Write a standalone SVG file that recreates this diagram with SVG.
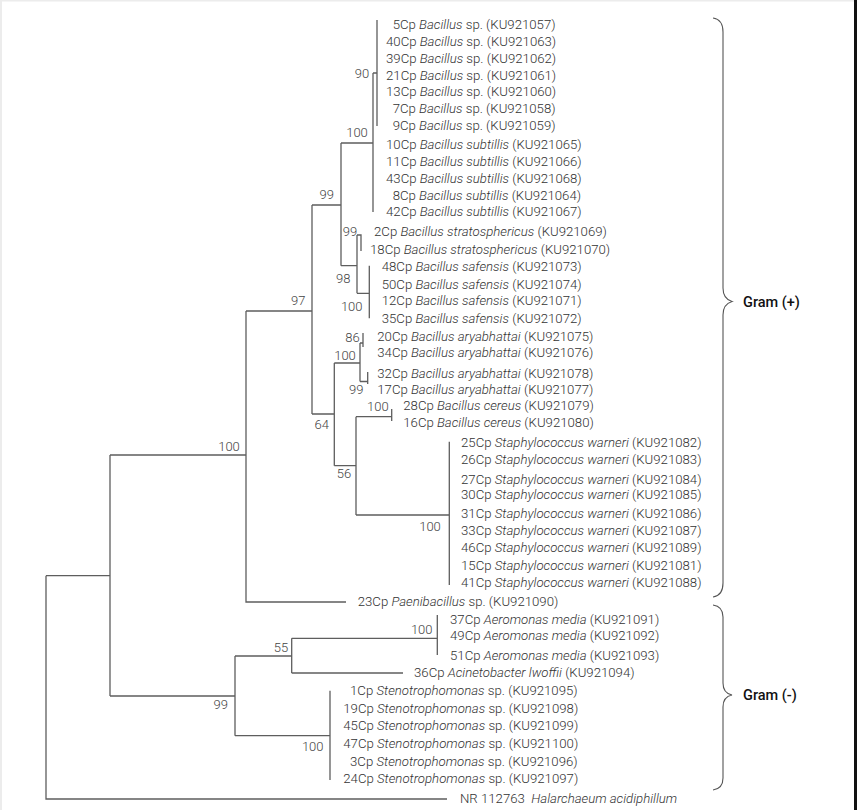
<svg xmlns="http://www.w3.org/2000/svg" width="857" height="810" viewBox="0 0 857 810">
<style>
.t{font-family:Roboto,"Liberation Sans",sans-serif;font-size:13.2px;font-weight:300;fill:#333}
.i{font-style:italic}
.bs{font-family:Roboto,"Liberation Sans",sans-serif;font-size:13px;font-weight:300;fill:#444;text-anchor:middle}
.br{stroke:#5e5e5e;stroke-width:1.3;fill:none}
.bc{stroke:#555;stroke-width:1.1;fill:none}
.g{font-family:Roboto,"Liberation Sans",sans-serif;font-size:14.5px;font-weight:500;fill:#111}
</style>
<rect width="857" height="810" fill="#fff"/>
<rect x="0" y="0" width="857" height="1.5" fill="#ececec"/>
<rect x="0" y="0" width="2" height="810" fill="#ececec"/>
<rect x="854" y="0" width="3" height="810" fill="#111"/>
<g id="connectors" class="br">
<path d="M46,575.7V799H447"/>
<path d="M46,575.7H110M110,455V696"/>
<path d="M110,455H246M246,311V602H346"/>
<path d="M246,311H312M312,205V414"/>
<path d="M312,205H341M341,143V265.7"/>
<path d="M341,143H373M373,73V212M373,73H377M377,20V126"/>
<path d="M341,265.7H357M357,235V293.3M357,235H361V251"/>
<path d="M357,293.3H369.3M369.3,265.7V318.3"/>
<path d="M312,414H334.3M334.3,363V465.7"/>
<path d="M334.3,363H360M360,343V381.5M360,343H363M363,333V347M360,381.5H367.7M367.7,372V384"/>
<path d="M334.3,465.7H356M356,416.7V515"/>
<path d="M356,416.7H391.7M391.7,409V421"/>
<path d="M356,515H449.3M449.3,441.7V585"/>
<path d="M110,696H235M235,656V735.7"/>
<path d="M235,656H291.7M291.7,638.3V673"/>
<path d="M291.7,638.3H437.3M437.3,615V655"/>
<path d="M291.7,673H403"/>
<path d="M235,735.7H330M330,690.7V780"/>
</g>
<g id="bootstrap">
<text class="bs" x="362" y="77.5">90</text>
<text class="bs" x="357" y="136.5">100</text>
<text class="bs" x="326.7" y="199">99</text>
<text class="bs" x="350" y="236">99</text>
<text class="bs" x="343.3" y="283">98</text>
<text class="bs" x="351.7" y="311">100</text>
<text class="bs" x="298.3" y="304.5">97</text>
<text class="bs" x="352.5" y="342">86</text>
<text class="bs" x="345" y="359.5">100</text>
<text class="bs" x="356.3" y="393.5">99</text>
<text class="bs" x="377.8" y="411">100</text>
<text class="bs" x="321.7" y="428.5">64</text>
<text class="bs" x="344" y="478">56</text>
<text class="bs" x="430" y="531">100</text>
<text class="bs" x="229" y="450.5">100</text>
<text class="bs" x="281" y="652">55</text>
<text class="bs" x="421.7" y="634">100</text>
<text class="bs" x="220.7" y="708.5">99</text>
<text class="bs" x="312.7" y="751">100</text>
</g>
<g id="leaf-5Cp"><text class="t" x="392.7" y="28.5">5Cp <tspan class="i">Bacillus</tspan> sp. (KU921057)</text></g>
<g id="leaf-40Cp"><text class="t" x="386" y="45.5">40Cp <tspan class="i">Bacillus</tspan> sp. (KU921063)</text></g>
<g id="leaf-39Cp"><text class="t" x="386" y="62.5">39Cp <tspan class="i">Bacillus</tspan> sp. (KU921062)</text></g>
<g id="leaf-21Cp"><text class="t" x="386" y="79.5">21Cp <tspan class="i">Bacillus</tspan> sp. (KU921061)</text></g>
<g id="leaf-13Cp"><text class="t" x="386" y="95.5">13Cp <tspan class="i">Bacillus</tspan> sp. (KU921060)</text></g>
<g id="leaf-7Cp"><text class="t" x="392.7" y="112.5">7Cp <tspan class="i">Bacillus</tspan> sp. (KU921058)</text></g>
<g id="leaf-9Cp"><text class="t" x="392.7" y="129.5">9Cp <tspan class="i">Bacillus</tspan> sp. (KU921059)</text></g>
<g id="leaf-10Cp"><text class="t" x="386" y="148.5">10Cp <tspan class="i">Bacillus subtillis</tspan> (KU921065)</text></g>
<g id="leaf-11Cp"><text class="t" x="386" y="165.5">11Cp <tspan class="i">Bacillus subtillis</tspan> (KU921066)</text></g>
<g id="leaf-43Cp"><text class="t" x="386" y="182.5">43Cp <tspan class="i">Bacillus subtillis</tspan> (KU921068)</text></g>
<g id="leaf-8Cp"><text class="t" x="392.7" y="199.5">8Cp <tspan class="i">Bacillus subtillis</tspan> (KU921064)</text></g>
<g id="leaf-42Cp"><text class="t" x="386" y="216.2">42Cp <tspan class="i">Bacillus subtillis</tspan> (KU921067)</text></g>
<g id="leaf-2Cp"><text class="t" x="374" y="236.2">2Cp <tspan class="i">Bacillus stratosphericus</tspan> (KU921069)</text></g>
<g id="leaf-18Cp"><text class="t" x="370" y="253.5">18Cp <tspan class="i">Bacillus stratosphericus</tspan> (KU921070)</text></g>
<g id="leaf-48Cp"><text class="t" x="381.7" y="271.2">48Cp <tspan class="i">Bacillus safensis</tspan> (KU921073)</text></g>
<g id="leaf-50Cp"><text class="t" x="381.7" y="288.5">50Cp <tspan class="i">Bacillus safensis</tspan> (KU921074)</text></g>
<g id="leaf-12Cp"><text class="t" x="381.7" y="305.2">12Cp <tspan class="i">Bacillus safensis</tspan> (KU921071)</text></g>
<g id="leaf-35Cp"><text class="t" x="381.7" y="322.8">35Cp <tspan class="i">Bacillus safensis</tspan> (KU921072)</text></g>
<g id="leaf-20Cp"><text class="t" x="377.3" y="341.2">20Cp <tspan class="i">Bacillus aryabhattai</tspan> (KU921075)</text></g>
<g id="leaf-34Cp"><text class="t" x="377.3" y="357.2">34Cp <tspan class="i">Bacillus aryabhattai</tspan> (KU921076)</text></g>
<g id="leaf-32Cp"><text class="t" x="377.3" y="377.8">32Cp <tspan class="i">Bacillus aryabhattai</tspan> (KU921078)</text></g>
<g id="leaf-17Cp"><text class="t" x="377.3" y="393.5">17Cp <tspan class="i">Bacillus aryabhattai</tspan> (KU921077)</text></g>
<g id="leaf-28Cp"><text class="t" x="403.3" y="410.2">28Cp <tspan class="i">Bacillus cereus</tspan> (KU921079)</text></g>
<g id="leaf-16Cp"><text class="t" x="403.3" y="426.8">16Cp <tspan class="i">Bacillus cereus</tspan> (KU921080)</text></g>
<g id="leaf-25Cp"><text class="t" x="461" y="447.2">25Cp <tspan class="i">Staphylococcus warneri</tspan> (KU921082)</text></g>
<g id="leaf-26Cp"><text class="t" x="461" y="463.8">26Cp <tspan class="i">Staphylococcus warneri</tspan> (KU921083)</text></g>
<g id="leaf-27Cp"><text class="t" x="461" y="483.5">27Cp <tspan class="i">Staphylococcus warneri</tspan> (KU921084)</text></g>
<g id="leaf-30Cp"><text class="t" x="461" y="498.5">30Cp <tspan class="i">Staphylococcus warneri</tspan> (KU921085)</text></g>
<g id="leaf-31Cp"><text class="t" x="461" y="517.8">31Cp <tspan class="i">Staphylococcus warneri</tspan> (KU921086)</text></g>
<g id="leaf-33Cp"><text class="t" x="461" y="534.5">33Cp <tspan class="i">Staphylococcus warneri</tspan> (KU921087)</text></g>
<g id="leaf-46Cp"><text class="t" x="461" y="552.2">46Cp <tspan class="i">Staphylococcus warneri</tspan> (KU921089)</text></g>
<g id="leaf-15Cp"><text class="t" x="461" y="570.2">15Cp <tspan class="i">Staphylococcus warneri</tspan> (KU921081)</text></g>
<g id="leaf-41Cp"><text class="t" x="461" y="586.8">41Cp <tspan class="i">Staphylococcus warneri</tspan> (KU921088)</text></g>
<g id="leaf-23Cp"><text class="t" x="357.7" y="606.2">23Cp <tspan class="i">Paenibacillus</tspan> sp. (KU921090)</text></g>
<g id="leaf-37Cp"><text class="t" x="450" y="623.8">37Cp <tspan class="i">Aeromonas media</tspan> (KU921091)</text></g>
<g id="leaf-49Cp"><text class="t" x="450" y="640.2">49Cp <tspan class="i">Aeromonas media</tspan> (KU921092)</text></g>
<g id="leaf-51Cp"><text class="t" x="450" y="659.5">51Cp <tspan class="i">Aeromonas media</tspan> (KU921093)</text></g>
<g id="leaf-36Cp"><text class="t" x="414" y="677.2">36Cp <tspan class="i">Acinetobacter lwoffii</tspan> (KU921094)</text></g>
<g id="leaf-1Cp"><text class="t" x="350" y="694.5">1Cp <tspan class="i">Stenotrophomonas</tspan> sp. (KU921095)</text></g>
<g id="leaf-19Cp"><text class="t" x="343.3" y="712.8">19Cp <tspan class="i">Stenotrophomonas</tspan> sp. (KU921098)</text></g>
<g id="leaf-45Cp"><text class="t" x="343.3" y="729.5">45Cp <tspan class="i">Stenotrophomonas</tspan> sp. (KU921099)</text></g>
<g id="leaf-47Cp"><text class="t" x="343.3" y="747.8">47Cp <tspan class="i">Stenotrophomonas</tspan> sp. (KU921100)</text></g>
<g id="leaf-3Cp"><text class="t" x="350" y="765.5">3Cp <tspan class="i">Stenotrophomonas</tspan> sp. (KU921096)</text></g>
<g id="leaf-24Cp"><text class="t" x="343.3" y="782.8">24Cp <tspan class="i">Stenotrophomonas</tspan> sp. (KU921097)</text></g>
<g id="leaf-NR"><text class="t" x="460" y="802.8" xml:space="preserve">NR 112763  <tspan class="i">Halarchaeum acidiphillum</tspan></text></g>
<g id="gram-positive">
<path class="bc" d="M713,18C720,19 723,24 723,32V288C723,296 727,300 732,301.5C727,303 723,307 723,315V583C723,591 720,596 713,597"/>
<text class="g" x="743" y="307">Gram (+)</text>
</g>
<g id="gram-negative">
<path class="bc" d="M713,605C720,606 723,610 723,617V683C723,690 727,694 732,695C727,696 723,700 723,707V778C723,785 720,789 713,790"/>
<text class="g" x="743" y="700">Gram (-)</text>
</g>
</svg>
